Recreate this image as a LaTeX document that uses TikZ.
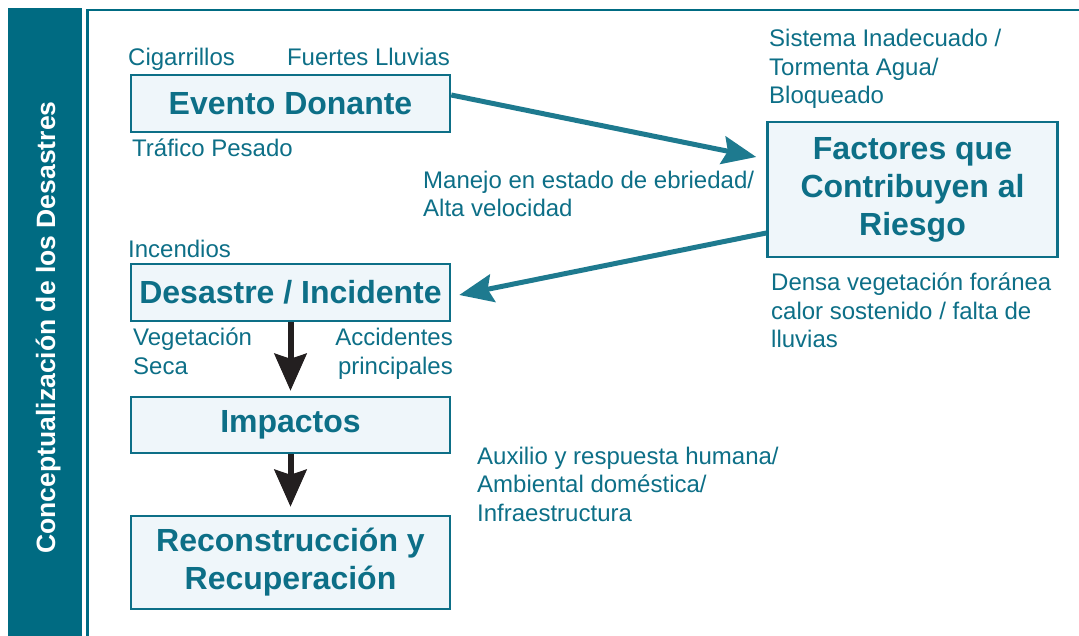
\documentclass[tikz,border=0pt]{standalone}
\usepackage{fontspec}
\setmainfont{Liberation Sans}
\usepackage{tikz}
\usetikzlibrary{arrows.meta,positioning}
\definecolor{barteal}{HTML}{006B82}
\definecolor{textteal}{HTML}{0D6F87}
\definecolor{boxfill}{HTML}{EFF6FA}
\definecolor{arrowteal}{HTML}{1E7A8F}
\definecolor{arrowdark}{HTML}{231F20}

\begin{document}
\begin{tikzpicture}[
      x=1pt, y=-1pt,
      stagebox/.style={draw=textteal, line width=2.5pt, fill=boxfill, text=textteal,
        font={\fontsize{32}{38}\selectfont\bfseries}, align=center, inner sep=0,
        minimum width=319pt},
      note/.style={text=textteal, font={\fontsize{24}{28.5}\selectfont}, inner sep=0},
      lnote/.style={note, align=left, anchor=base west},
      rnote/.style={note, align=right, anchor=base east},
      flow/.style={draw=arrowteal, line width=5pt, -{Stealth[length=34pt,width=28pt,inset=5pt]}},
      step down/.style={draw=arrowdark, line width=6pt, -{Stealth[length=37pt,width=32pt,inset=5pt]}}
  ]
  \useasboundingbox (0,0) rectangle (1079,636);

  % side bar and frame
  \fill[barteal] (8,8) rectangle (82,636);
  \node[rotate=90, anchor=base, text=white, inner sep=0,
    font={\fontsize{26.5}{30}\selectfont\bfseries}] (bartitle) at (55,327.5)
    {Conceptualización de los Desastres};
  \draw[barteal, line width=2.5pt] (87.5,636) -- (87.5,10) -- (1079,10);

  % stages
  \node[stagebox, minimum height=57pt] (evento) at (290.5,103.5) {Evento Donante};
  \node[stagebox, minimum width=290pt, minimum height=135pt] (factores) at (912.5,189.5)
    {Factores que\\Contribuyen al\\Riesgo};
  \node[stagebox, minimum height=57pt] (desastre) at (290.5,292.5) {Desastre / Incidente};
  \node[stagebox, minimum height=56pt] (impactos) at (290.5,425) {Impactos};
  \node[stagebox, minimum height=93pt] (recon) at (290.5,562.5)
    {Reconstrucción y\\Recuperación};

  % notes (base = last line)
  \node[lnote] (cigarrillos) at (128,66) {Cigarrillos};
  \node[rnote] (lluvias) at (450,66) {Fuertes Lluvias};
  \node[lnote] (trafico) at (132,157) {Tráfico Pesado};
  \node[lnote] (sistema) at (769,104) {Sistema Inadecuado /\\Tormenta Agua/\\Bloqueado};
  \node[lnote] (manejo) at (423,217) {Manejo en estado de ebriedad/\\Alta velocidad};
  \node[lnote] (densa) at (771,348) {Densa vegetación foránea\\calor sostenido / falta de\\lluvias};
  \node[lnote] (incendios) at (128,258) {Incendios};
  \node[lnote] (vegetacion) at (133,374) {Vegetación\\Seca};
  \node[rnote] (accidentes) at (453,374) {Accidentes\\principales};
  \node[lnote] (auxilio) at (477,521) {Auxilio y respuesta humana/\\Ambiental doméstica/\\Infraestructura};

  % connectors
  \draw[flow] ([yshift=8.5pt]evento.east) -- ([xshift=-10pt,yshift=32.5pt]factores.west);
  \draw[flow] ([yshift=-43.5pt]factores.west) -- ([xshift=8pt,yshift=-2.5pt]desastre.east);
  \draw[step down] (desastre.south) -- ([yshift=5pt]impactos.north);
  \draw[step down] (impactos.south) -- ([yshift=8pt]recon.north);

\end{tikzpicture}
\end{document}
